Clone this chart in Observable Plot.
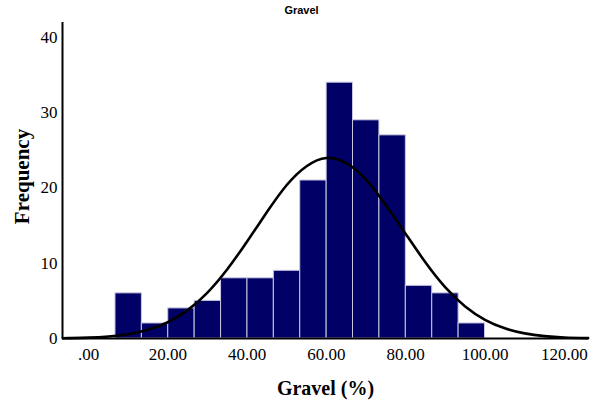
<!DOCTYPE html>
<html>
<head>
<meta charset="utf-8">
<script src="https://cdn.jsdelivr.net/npm/d3@7"></script>
<script src="https://cdn.jsdelivr.net/npm/@observablehq/plot@0.6"></script>
<style>
  html, body { margin: 0; padding: 0; background: #fff; }
</style>
</head>
<body>
<div id="chart"></div>
<script>
// Histogram bins (Gravel %)
const binEdges = [6.8, 13.46, 20.11, 26.77, 33.43, 40.09, 46.74, 53.40, 60.06, 66.71, 73.37, 80.03, 86.69, 93.34, 100.0];
const counts = [6, 2, 4, 5, 8, 8, 9, 21, 34, 29, 27, 7, 6, 2];

// Fitted normal curve
const curveX = [-6.5, -5, 0, 5, 10, 15, 20, 25, 30, 35, 40, 45, 50, 55, 60, 65, 70, 75, 80, 85, 90, 95, 100, 105, 110, 115, 120, 126];
const curveY = [0.03, 0.05, 0.11, 0.26, 0.57, 1.15, 2.16, 3.77, 6.11, 9.21, 12.9, 16.8, 20.4, 22.9, 24.0, 23.3, 21.1, 17.7, 13.9, 10.1, 6.79, 4.26, 2.48, 1.35, 0.68, 0.32, 0.14, 0.05];

const xTicks = [0, 20, 40, 60, 80, 100, 120];
const yTicks = [0, 10, 20, 30, 40];
const title = "Gravel";
const xLabel = "Gravel (%)";
const yLabel = "Frequency";

const bins = counts.map((c, i) => ({x1: binEdges[i], x2: binEdges[i + 1], count: c}));
const curve = curveX.map((x, i) => ({x, y: curveY[i]}));
const xMin = -6.56, xMax = 126.1;

const chart = Plot.plot({
  width: 598,
  height: 406,
  marginLeft: 62,
  marginRight: 10,
  marginTop: 22,
  marginBottom: 68,
  style: {fontFamily: "'Liberation Serif', 'Times New Roman', serif", fontSize: "17px", color: "#000", background: "#fff"},
  x: {domain: [xMin, xMax], ticks: xTicks, tickFormat: d => d === 0 ? ".00" : d.toFixed(2), tickSize: 0, tickPadding: 9, label: null},
  y: {domain: [0, 42], ticks: yTicks, tickSize: 0, tickPadding: 5, label: null},
  marks: [
    Plot.rectY(bins, {x1: "x1", x2: "x2", y: "count", fill: "#000066", stroke: "#c8c8e2", strokeWidth: 1, inset: 0}),
    Plot.ruleY([0], {x1: xMin, x2: xMax, stroke: "#000", strokeWidth: 2}),
    Plot.ruleX([xMin], {y1: 0, y2: 42, stroke: "#000", strokeWidth: 2}),
    Plot.line(curve, {x: "x", y: "y", stroke: "#000", strokeWidth: 2.6, curve: "natural"}),
    Plot.text([title], {frameAnchor: "top", lineAnchor: "middle", dx: -24, dy: -12, fontFamily: "'Liberation Sans', Arial, sans-serif", fontWeight: "bold", fontSize: 11, fill: "#000"}),
    Plot.text([xLabel], {frameAnchor: "bottom", lineAnchor: "middle", textAnchor: "middle", dy: 50, fontWeight: "bold", fontSize: 20, fill: "#000"}),
    Plot.text([yLabel], {frameAnchor: "left", lineAnchor: "middle", textAnchor: "middle", dx: -40, dy: -4, rotate: -90, fontWeight: "bold", fontSize: 21, fill: "#000"})
  ]
});
document.getElementById("chart").appendChild(chart);
</script>
</body>
</html>
